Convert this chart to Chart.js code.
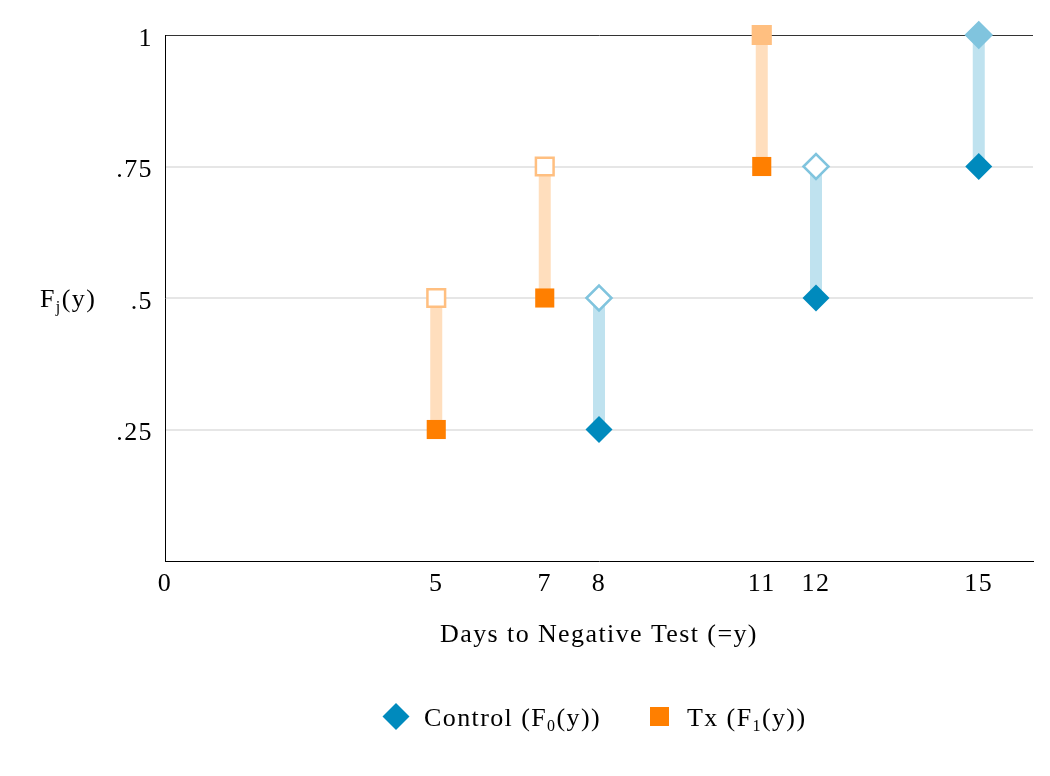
<!DOCTYPE html>
<html>
<head>
<meta charset="utf-8">
<script src="https://cdn.jsdelivr.net/npm/chart.js@4/dist/chart.umd.min.js"></script>
<style>
  body { margin: 0; background: #fff; }
</style>
</head>
<body>
<canvas id="cdfChart" width="1050" height="776"></canvas>
<script>
// Days to negative test, by group
const txDays = [5, 7, 11];
const txLower = [0.25, 0.5, 0.75];
const txUpper = [0.5, 0.75, 1];
const ctrlDays = [8, 12, 15];
const ctrlLower = [0.25, 0.5, 0.75];
const ctrlUpper = [0.5, 0.75, 1];

const xTicks = [0, 5, 7, 8, 11, 12, 15];
const yTicks = [0.25, 0.5, 0.75, 1];
const yTickLabels = ['.25', '.5', '.75', '1'];

const FONT = '"Liberation Serif", "DejaVu Serif", serif';
const FONT_SIZE = 26;
const SPACING = '1.4px';

const ORANGE = '#ff7f00';
const ORANGE_LIGHT = '#ffbf80';
const ORANGE_BAR = '#ffdebd';
const BLUE = '#008abd';
const BLUE_LIGHT = '#80c4de';
const BLUE_BAR = '#bfe2ef';

const toPoints = (xs, ys) => xs.map((x, i) => ({ x: x, y: ys[i] }));
// vertical segments lower -> upper, broken by null gaps
const toSegments = (xs, lo, hi) => xs.flatMap((x, i) => [
    { x: x, y: lo[i] }, { x: x, y: hi[i] }, { x: x, y: null }
]);
// top step (F = 1) is filled, the others are open
const upperFill = (ys, color) => ys.map(y => (y === 1 ? color : '#ffffff'));

// wider letter spacing for all canvas text
const textSpacing = {
    id: 'textSpacing',
    beforeUpdate(chart) { chart.ctx.letterSpacing = SPACING; },
    beforeDraw(chart) { chart.ctx.letterSpacing = SPACING; }
};

// y-axis title and legend with subscripts
function drawSubText(ctx, parts, x, y, size) {
    let cx = x;
    parts.forEach(([text, sub]) => {
        ctx.font = (sub ? Math.round(size * 0.6) : size) + 'px ' + FONT;
        ctx.fillText(text, cx, sub ? y + size * 0.2 : y);
        cx += ctx.measureText(text).width;
    });
}

const extraText = {
    id: 'extraText',
    afterDraw(chart) {
        const ctx = chart.ctx;
        ctx.save();
        ctx.fillStyle = '#000';
        ctx.textBaseline = 'alphabetic';
        ctx.textAlign = 'left';
        drawSubText(ctx, [['F', false], ['j', true], ['(y)', false]], 40, 307, FONT_SIZE);

        // legend
        ctx.fillStyle = BLUE;
        ctx.beginPath();
        ctx.moveTo(396, 703);
        ctx.lineTo(409.5, 716.5);
        ctx.lineTo(396, 730);
        ctx.lineTo(382.5, 716.5);
        ctx.closePath();
        ctx.fill();
        ctx.fillStyle = ORANGE;
        ctx.fillRect(650, 707, 19, 19);

        ctx.fillStyle = '#000';
        drawSubText(ctx, [['Control (F', false], ['0', true], ['(y))', false]], 424, 726, FONT_SIZE);
        drawSubText(ctx, [['Tx (F', false], ['1', true], ['(y))', false]], 687, 726, FONT_SIZE);
        ctx.restore();
    }
};

const ctx = document.getElementById('cdfChart').getContext('2d');
new Chart(ctx, {
    type: 'scatter',
    data: {
        datasets: [
            {
                data: toSegments(txDays, txLower, txUpper),
                showLine: true,
                spanGaps: false,
                borderColor: ORANGE_BAR,
                borderWidth: 12,
                borderCapStyle: 'butt',
                pointRadius: 0,
                order: 10
            },
            {
                data: toSegments(ctrlDays, ctrlLower, ctrlUpper),
                showLine: true,
                spanGaps: false,
                borderColor: BLUE_BAR,
                borderWidth: 12,
                borderCapStyle: 'butt',
                pointRadius: 0,
                order: 10
            },
            {
                data: toPoints(txDays, txUpper),
                pointStyle: 'rect',
                pointRadius: 12.5,
                pointBackgroundColor: upperFill(txUpper, ORANGE_LIGHT),
                pointBorderColor: ORANGE_LIGHT,
                pointBorderWidth: 2.5,
                clip: false,
                order: 1
            },
            {
                data: toPoints(ctrlDays, ctrlUpper),
                pointStyle: 'rectRot',
                pointRadius: 12.5,
                pointBackgroundColor: upperFill(ctrlUpper, BLUE_LIGHT),
                pointBorderColor: BLUE_LIGHT,
                pointBorderWidth: 2.5,
                clip: false,
                order: 1
            },
            {
                data: toPoints(txDays, txLower),
                pointStyle: 'rect',
                pointRadius: 13.5,
                pointBackgroundColor: ORANGE,
                pointBorderColor: ORANGE,
                pointBorderWidth: 0,
                order: 0
            },
            {
                data: toPoints(ctrlDays, ctrlLower),
                pointStyle: 'rectRot',
                pointRadius: 13.5,
                pointBackgroundColor: BLUE,
                pointBorderColor: BLUE,
                pointBorderWidth: 0,
                order: 0
            }
        ]
    },
    options: {
        responsive: false,
        animation: false,
        devicePixelRatio: 1,
        layout: {
            padding: { left: 0, right: 17, top: 35, bottom: 125 }
        },
        plugins: {
            legend: { display: false },
            tooltip: { enabled: false }
        },
        scales: {
            x: {
                type: 'linear',
                min: 0,
                max: 16,
                afterBuildTicks: (scale) => {
                    scale.ticks = xTicks.map(v => ({ value: v }));
                },
                afterFit: (scale) => { scale.height = 90; },
                ticks: {
                    color: '#000',
                    font: { family: FONT, size: FONT_SIZE },
                    padding: 8,
                    maxRotation: 0,
                    autoSkip: false
                },
                grid: { display: false, drawTicks: false },
                border: { color: '#000', width: 1 },
                title: {
                    display: true,
                    text: 'Days to Negative Test (=y)',
                    color: '#000',
                    font: { family: FONT, size: FONT_SIZE },
                    padding: 0
                }
            },
            y: {
                min: 0,
                max: 1,
                afterBuildTicks: (scale) => {
                    scale.ticks = yTicks.map(v => ({ value: v }));
                },
                afterFit: (scale) => { scale.width = 165; },
                ticks: {
                    color: '#000',
                    font: { family: FONT, size: FONT_SIZE },
                    padding: 12,
                    labelOffset: 4,
                    callback: (value) => yTickLabels[yTicks.indexOf(value)]
                },
                grid: {
                    drawTicks: false,
                    color: (c) => (c.tick && c.tick.value === 1 ? '#333' : '#e6e6e6'),
                    lineWidth: (c) => (c.tick && c.tick.value === 1 ? 1 : 2)
                },
                border: { color: '#000', width: 1 }
            }
        }
    },
    plugins: [textSpacing, extraText]
});
</script>
</body>
</html>
